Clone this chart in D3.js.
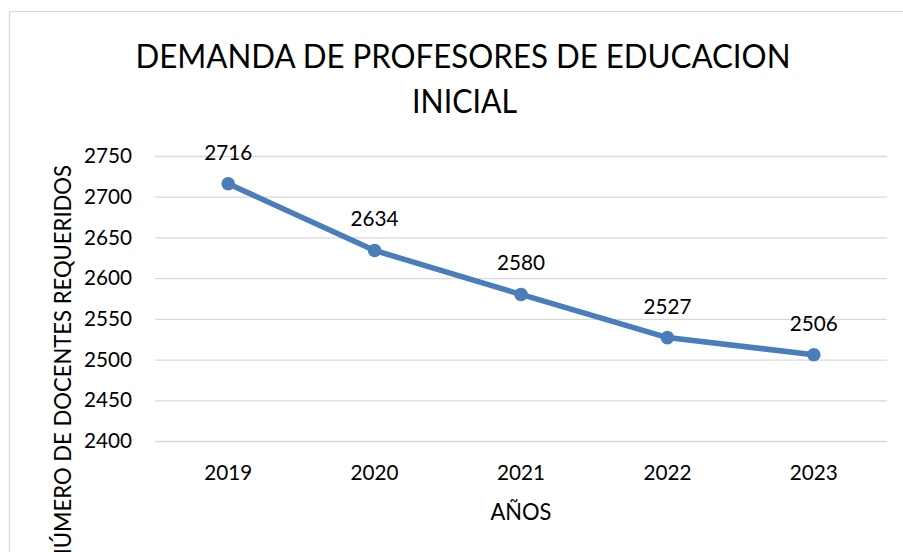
<!DOCTYPE html>
<html>
<head>
<meta charset="utf-8">
<script src="https://cdn.jsdelivr.net/npm/d3@7"></script>
<style>
  html, body { margin: 0; padding: 0; background: #ffffff; }
  svg { display: block; font-family: Lato, Carlito, Calibri, sans-serif; }
</style>
</head>
<body>
<svg id="chart" width="903" height="552"></svg>
<script>
// ---- data ----
const categories = ["2019", "2020", "2021", "2022", "2023"];
const values = [2716, 2634, 2580, 2527, 2506];
const yTicks = [2400, 2450, 2500, 2550, 2600, 2650, 2700, 2750];
const titleLines = ["DEMANDA DE PROFESORES DE EDUCACION", "INICIAL"];
const xTitle = "AÑOS";
const yTitle = "NÚMERO DE DOCENTES REQUERIDOS";

// ---- layout ----
const W = 903, H = 552;
const plot = { left: 155, right: 887, top: 156, bottom: 441 };
const lineColor = "#4a7ebb";
const gridColor = "#d9d9d9";

const svg = d3.select("#chart");
svg.append("rect").attr("width", W).attr("height", H).attr("fill", "#fff");

// chart-area border (extends past right/bottom edge)
svg.append("rect")
  .attr("x", 9.5).attr("y", 11.5)
  .attr("width", W + 20).attr("height", H + 20)
  .attr("fill", "none").attr("stroke", gridColor).attr("stroke-width", 1.3);

const x = d3.scaleBand().domain(categories).range([plot.left, plot.right]).padding(0);
const y = d3.scaleLinear().domain([2400, 2750]).range([plot.bottom, plot.top]);

// gridlines + y tick labels via axis
const yAxis = d3.axisLeft(y).tickValues(yTicks).tickSize(-(plot.right - plot.left)).tickPadding(23).tickFormat(d3.format("d"));
const gy = svg.append("g").attr("transform", `translate(${plot.left},0)`).call(yAxis);
gy.select(".domain").remove();
gy.selectAll(".tick line").attr("stroke", gridColor).attr("stroke-width", 1.3);
gy.selectAll(".tick text").attr("fill", "#000").attr("font-size", 20.7)
  .attr("font-family", "Lato, Carlito, Calibri, sans-serif");

// x axis labels
const xAxis = d3.axisBottom(x).tickSize(0).tickPadding(24);
const gx = svg.append("g").attr("transform", `translate(0,${plot.bottom})`).call(xAxis);
gx.select(".domain").remove();
gx.selectAll(".tick text").attr("fill", "#000").attr("font-size", 20.7)
  .attr("font-family", "Lato, Carlito, Calibri, sans-serif");

// line
const cx = d => x(d.c) + x.bandwidth() / 2;
const pts = categories.map((c, i) => ({ c, v: values[i] }));
const line = d3.line().x(cx).y(d => y(d.v));
svg.append("path").datum(pts).attr("d", line)
  .attr("fill", "none").attr("stroke", lineColor).attr("stroke-width", 5.5)
  .attr("stroke-linejoin", "round").attr("stroke-linecap", "round");

svg.selectAll("circle.pt").data(pts).enter().append("circle")
  .attr("class", "pt").attr("cx", cx).attr("cy", d => y(d.v)).attr("r", 6.8)
  .attr("fill", lineColor);

// data labels
svg.selectAll("text.lbl").data(pts).enter().append("text")
  .attr("class", "lbl").attr("x", cx).attr("y", d => y(d.v) - 24)
  .attr("text-anchor", "middle").attr("font-size", 20.7).attr("fill", "#000")
  .text(d => d.v);

// title
svg.append("text").attr("x", 463).attr("y", 68).attr("text-anchor", "middle")
  .attr("font-size", 33.3).attr("fill", "#000")
  .attr("textLength", 655).attr("lengthAdjust", "spacingAndGlyphs").text(titleLines[0]);
svg.append("text").attr("x", 464.5).attr("y", 113.3).attr("text-anchor", "middle")
  .attr("font-size", 33.3).attr("fill", "#000")
  .attr("textLength", 105).attr("lengthAdjust", "spacingAndGlyphs").text(titleLines[1]);

// axis titles
svg.append("text").attr("x", 521).attr("y", 520).attr("text-anchor", "middle")
  .attr("font-size", 23.4).attr("fill", "#000")
  .attr("textLength", 61).attr("lengthAdjust", "spacingAndGlyphs").text(xTitle);
svg.append("text").attr("transform", "translate(70.5,165) rotate(-90)")
  .attr("text-anchor", "end").attr("font-size", 23.4).attr("fill", "#000")
  .attr("textLength", 400).attr("lengthAdjust", "spacingAndGlyphs").text(yTitle);
</script>
</body>
</html>
